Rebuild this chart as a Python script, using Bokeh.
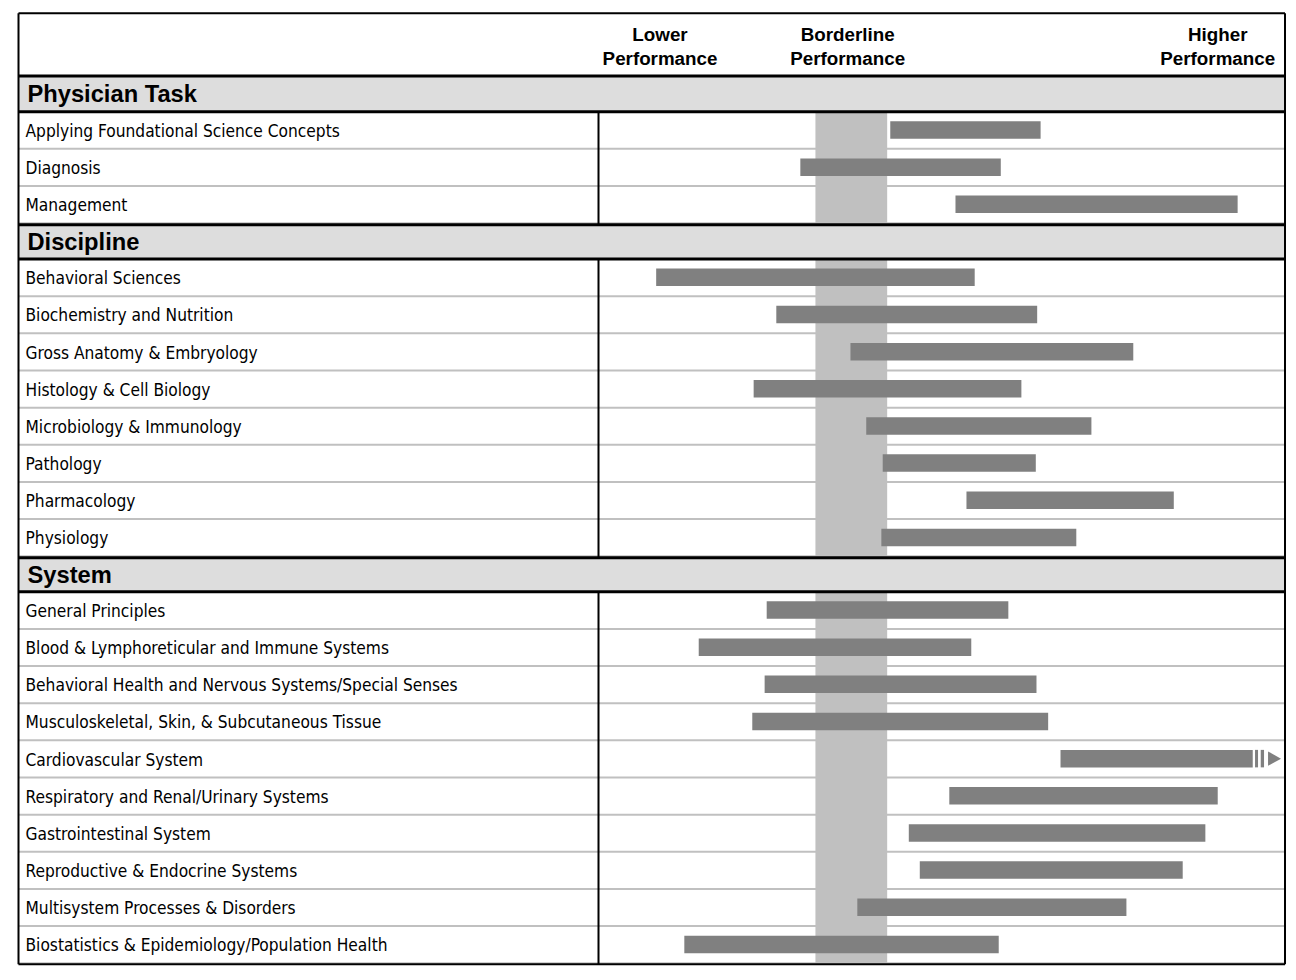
from bokeh.plotting import figure
from bokeh.models import Range1d, ColumnDataSource
from bokeh.core.properties import value
from bokeh.embed import file_html
from bokeh.resources import INLINE

# ---------------- data (performance score units, 0..100 across the plot column) -------------
section_names = ["Physician Task", "Discipline", "System"]

task_labels = ["Applying Foundational Science Concepts", "Diagnosis", "Management"]
task_low = [42.5, 29.4, 52.0]
task_high = [64.4, 58.6, 93.1]

disc_labels = ["Behavioral Sciences", "Biochemistry and Nutrition", "Gross Anatomy & Embryology",
               "Histology & Cell Biology", "Microbiology & Immunology", "Pathology",
               "Pharmacology", "Physiology"]
disc_low = [8.4, 25.9, 36.7, 22.6, 39.0, 41.4, 53.6, 41.2]
disc_high = [54.8, 63.9, 77.9, 61.6, 71.8, 63.7, 83.8, 69.6]

sys_labels = ["General Principles", "Blood & Lymphoreticular and Immune Systems",
              "Behavioral Health and Nervous Systems/Special Senses",
              "Musculoskeletal, Skin, & Subcutaneous Tissue", "Cardiovascular System",
              "Respiratory and Renal/Urinary Systems", "Gastrointestinal System",
              "Reproductive & Endocrine Systems", "Multisystem Processes & Disorders",
              "Biostatistics & Epidemiology/Population Health"]
sys_low = [24.5, 14.6, 24.2, 22.4, 67.3, 51.1, 45.2, 46.8, 37.7, 12.5]
sys_high = [59.7, 54.3, 63.8, 65.5, 95.3, 90.2, 88.4, 85.1, 76.9, 58.3]

truncated = ["Cardiovascular System"]   # bar continues beyond the displayed scale

band_low, band_high = 31.6, 42.05       # borderline performance band

col_header_line1 = ["Lower", "Borderline", "Higher"]
col_header_line2 = ["Performance", "Performance", "Performance"]
col_header_x = [8.96, 36.3, 90.2]

# ---------------- layout -------------
W, H = 1296, 975
PPU = 6.865                      # pixels per score unit
X0 = -598 / PPU
X1 = (W - 598) / PPU
FL = (18 - 598) / PPU            # frame left
FR = 100.0                       # frame right
LABEL_X = (25 - 598) / PPU
SEC_X = (27 - 598) / PPU

TOP = 12.7
HEAD_LINE = 75.6
SEC_H = [35.6, 34.4, 34.0]
ROW_H = 37.15
BAR_H = 17.5

p = figure(width=W, height=H, x_range=Range1d(X0, X1), y_range=Range1d(H, 0),
           output_backend="svg", toolbar_location=None, min_border=0)
p.axis.visible = False
p.grid.visible = False
p.outline_line_color = None
p.background_fill_color = "white"
p.border_fill_color = "white"

sections = [
    (section_names[0], task_labels, task_low, task_high),
    (section_names[1], disc_labels, disc_low, disc_high),
    (section_names[2], sys_labels, sys_low, sys_high),
]

hdr = dict(left=[], right=[], top=[], bottom=[])
band = dict(left=[], right=[], top=[], bottom=[])
bars = dict(left=[], right=[], top=[], bottom=[])
sep_y = []
black_y = [HEAD_LINE]
div_y0, div_y1 = [], []
lab = dict(x=[], y=[], text=[])
sec = dict(x=[], y=[], text=[])
trunc_rows = []

y = HEAD_LINE
for k, (name, labels, lo, hi) in enumerate(sections):
    hdr["left"].append(FL); hdr["right"].append(FR)
    hdr["top"].append(y); hdr["bottom"].append(y + SEC_H[k])
    sec["x"].append(SEC_X); sec["y"].append(y + SEC_H[k] / 2 + 0.5); sec["text"].append(name)
    y += SEC_H[k]
    black_y.append(y)
    rows_top = y + 1.0
    y = rows_top
    for i, lbl in enumerate(labels):
        cy = y + ROW_H / 2
        lab["x"].append(LABEL_X); lab["y"].append(cy - 0.3); lab["text"].append(lbl)
        bc = cy - 1.3
        bars["left"].append(lo[i]); bars["right"].append(hi[i])
        bars["top"].append(bc - BAR_H / 2); bars["bottom"].append(bc + BAR_H / 2)
        if lbl in truncated:
            trunc_rows.append((hi[i], bc))
        y += ROW_H
        sep_y.append(y - 1.0)
    band["left"].append(band_low); band["right"].append(band_high)
    band["top"].append(rows_top); band["bottom"].append(y)
    div_y0.append(rows_top); div_y1.append(y)
    if k < len(sections) - 1:
        y += 0.5
        black_y.append(y)
BOTTOM = y

# section header fills
p.quad(source=ColumnDataSource(hdr), left="left", right="right", top="top", bottom="bottom",
       fill_color="#dddddd", line_color=None)
# light row separators
p.segment(x0=[FL] * len(sep_y), x1=[FR] * len(sep_y), y0=sep_y, y1=sep_y,
          line_color="#c0c0c0", line_width=2)
# borderline band
p.quad(source=ColumnDataSource(band), left="left", right="right", top="top", bottom="bottom",
       fill_color="#c0c0c0", line_color=None)
# bars
p.quad(source=ColumnDataSource(bars), left="left", right="right", top="top", bottom="bottom",
       fill_color="#808080", line_color=None)

# truncation marks (stripes + arrow head)
for end, bc in trunc_rows:
    for a, b in [(2.3, 5.3), (8.0, 11.3)]:
        p.quad(left=[end + a / PPU], right=[end + b / PPU], top=[bc - BAR_H / 2],
               bottom=[bc + BAR_H / 2], fill_color="#808080", line_color=None)
    p.patch(x=[end + 15.3 / PPU, end + 28.3 / PPU, end + 15.3 / PPU],
            y=[bc - 7.2, bc, bc + 7.2], fill_color="#808080", line_color=None)

# black structure lines
p.segment(x0=[FL] * len(black_y), x1=[FR] * len(black_y), y0=black_y, y1=black_y,
          line_color="black", line_width=3)
p.segment(x0=[0] * len(div_y0), x1=[0] * len(div_y0), y0=div_y0, y1=div_y1,
          line_color="black", line_width=2)
# outer frame
p.segment(x0=[FL, FL, FR, FL], x1=[FR, FL, FR, FR], y0=[TOP, TOP, TOP, BOTTOM],
          y1=[TOP, BOTTOM, BOTTOM, BOTTOM], line_color="black", line_width=2)

# texts
p.text(source=ColumnDataSource(lab), x="x", y="y", text="text",
       text_font=value("DejaVu Sans Condensed, Liberation Sans"), text_font_size="17.2px",
       text_baseline="middle", text_align="left", text_color="black")
p.text(source=ColumnDataSource(sec), x="x", y="y", text="text",
       text_font=value("Liberation Sans"), text_font_style="bold", text_font_size="23.7px",
       text_baseline="middle", text_align="left", text_color="black")
p.text(x=col_header_x, y=[33.5] * 3, text=col_header_line1,
       text_font=value("Liberation Sans"), text_font_style="bold", text_font_size="18.8px",
       text_baseline="middle", text_align="center", text_color="black")
p.text(x=col_header_x, y=[57.5] * 3, text=col_header_line2,
       text_font=value("Liberation Sans"), text_font_style="bold", text_font_size="18.8px",
       text_baseline="middle", text_align="center", text_color="black")

open("out.html", "w").write(file_html(p, INLINE))
